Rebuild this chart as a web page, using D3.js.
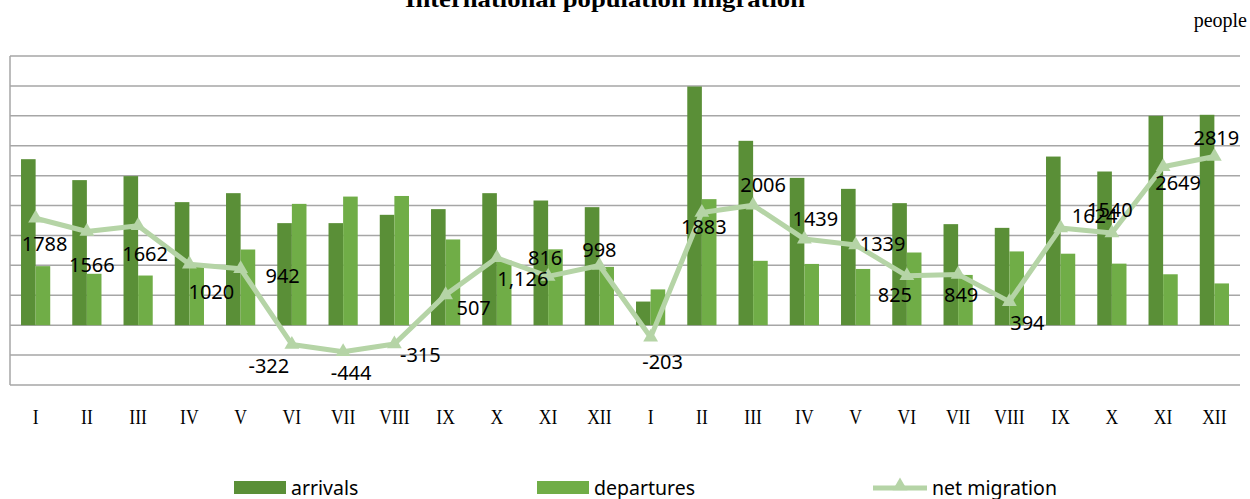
<!DOCTYPE html>
<html>
<head>
<meta charset="utf-8">
<script src="https://cdn.jsdelivr.net/npm/d3@7/dist/d3.min.js"></script>
<style>
  body { margin: 0; background: #fff; }
</style>
</head>
<body>
<script>
// months of two consecutive years
var months = ["I","II","III","IV","V","VI","VII","VIII","IX","X","XI","XII",
              "I","II","III","IV","V","VI","VII","VIII","IX","X","XI","XII"];

var arrivals = [2775, 2425, 2492, 2057, 2207, 1706, 1706, 1845, 1940, 2207, 2084, 1973,
                395, 3990, 3082, 2463, 2279, 2040, 1689, 1627, 2819, 2569, 3500, 3517];

var departures = [987, 859, 830, 1037, 1265, 2028, 2150, 2160, 1433, 1081, 1268, 975,
                  598, 2107, 1076, 1024, 940, 1215, 840, 1233, 1195, 1029, 851, 698];

var netMigration = [1788, 1566, 1662, 1020, 942, -322, -444, -315, 507, 1126, 816, 998,
                    -203, 1883, 2006, 1439, 1339, 825, 849, 394, 1624, 1540, 2649, 2819];

var netLabels = ["1788","1566","1662","1020","942","-322","-444","-315","507","1,126","816","998",
                 "-203","1883","2006","1439","1339","825","849","394","1624","1540","2649","2819"];

var yTicks = d3.range(-1000, 4501, 500);

// where each data label sits relative to its marker (as placed in the original)
var labelShift = [[9,26],[5,33],[7,28],[22,28],[42,7],[-23,21],[8,21],[26,11],[28,13],[26,21],[-3,-19],[0,-16],
                  [12,24],[2,14],[10,-20],[11,-20],[27,-1],[-12,19],[3,20],[18,21],[34,-12],[-2,-23],[15,16],[2,-19]];

var width = 1250, height = 499;
var plot = {left: 10, right: 1240, top: 56, bottom: 385};

var svg = d3.select("body")
  .append("svg")
  .attr("width", width)
  .attr("height", height)
  .style("background-color", "white");

var x = d3.scaleBand()
  .domain(d3.range(months.length))
  .range([plot.left, plot.right])
  .paddingInner(0.43)
  .paddingOuter(0.215);

var x1 = d3.scaleBand()
  .domain(["arrivals", "departures"])
  .range([0, x.bandwidth()]);

var y = d3.scaleLinear()
  .domain([-1000, 4500])
  .range([plot.bottom, plot.top]);

// title (mostly cut off at the top) and unit
svg.append("text")
  .attr("x", 605).attr("y", 7)
  .attr("text-anchor", "middle")
  .attr("textLength", 400)
  .attr("lengthAdjust", "spacingAndGlyphs")
  .style("font-family", "Liberation Serif")
  .style("font-weight", "bold")
  .style("font-size", "23px")
  .text("International population migration");

svg.append("text")
  .attr("x", 1247).attr("y", 27)
  .attr("text-anchor", "end")
  .style("font-family", "Liberation Serif")
  .style("font-size", "20px")
  .text("people");

// gridlines
svg.append("g")
  .selectAll("line")
  .data(yTicks)
  .enter()
  .append("line")
  .attr("x1", plot.left).attr("x2", plot.right)
  .attr("y1", function(d) { return y(d); })
  .attr("y2", function(d) { return y(d); })
  .attr("stroke", "#a6a6a6")
  .attr("stroke-width", 1.5);

svg.append("line")
  .attr("x1", plot.left).attr("x2", plot.left)
  .attr("y1", plot.top).attr("y2", plot.bottom)
  .attr("stroke", "#a6a6a6")
  .attr("stroke-width", 1.5);

// bars
var colors = {arrivals: "#5a8f37", departures: "#70ad47"};
var series = [["arrivals", arrivals], ["departures", departures]];

series.forEach(function(s) {
  svg.append("g")
    .selectAll("rect")
    .data(s[1])
    .enter()
    .append("rect")
    .attr("x", function(d, i) { return x(i) + x1(s[0]); })
    .attr("width", x1.bandwidth())
    .attr("y", function(d) { return y(Math.max(0, d)); })
    .attr("height", function(d) { return Math.abs(y(d) - y(0)); })
    .attr("fill", colors[s[0]]);
});

// net migration line
var lineColor = "#b5d4a6";
var cx = function(i) { return x(i) + x.bandwidth() / 2; };

svg.append("path")
  .datum(netMigration)
  .attr("d", d3.line()
    .x(function(d, i) { return cx(i); })
    .y(function(d) { return y(d); }))
  .attr("fill", "none")
  .attr("stroke", lineColor)
  .attr("stroke-width", 5)
  .attr("stroke-linejoin", "round");

svg.append("g")
  .selectAll("path")
  .data(netMigration)
  .enter()
  .append("path")
  .attr("d", d3.symbol().type(d3.symbolTriangle).size(95))
  .attr("transform", function(d, i) { return "translate(" + cx(i) + "," + y(d) + ")"; })
  .attr("fill", lineColor);

// data labels
svg.append("g")
  .selectAll("text")
  .data(netMigration)
  .enter()
  .append("text")
  .attr("x", function(d, i) { return cx(i) + labelShift[i][0]; })
  .attr("y", function(d, i) { return y(d) + labelShift[i][1]; })
  .attr("dy", "0.36em")
  .attr("text-anchor", "middle")
  .style("font-family", "Noto Sans")
  .style("font-size", "20px")
  .attr("fill", "#000")
  .text(function(d, i) { return netLabels[i]; });

// month labels
svg.append("g")
  .selectAll("text")
  .data(months)
  .enter()
  .append("text")
  .attr("transform", function(d, i) { return "translate(" + cx(i) + ",424) scale(0.8,1)"; })
  .attr("text-anchor", "middle")
  .style("font-family", "Liberation Serif")
  .style("font-size", "22px")
  .text(function(d) { return d; });

// legend
var legend = svg.append("g").style("font-family", "Noto Sans").style("font-size", "19.5px");

[["arrivals", 234], ["departures", 537]].forEach(function(l) {
  legend.append("rect")
    .attr("x", l[1]).attr("y", 481)
    .attr("width", 52).attr("height", 13)
    .attr("fill", colors[l[0]]);
  legend.append("text")
    .attr("x", l[1] + 57).attr("y", 495)
    .text(l[0]);
});

legend.append("line")
  .attr("x1", 873).attr("x2", 927)
  .attr("y1", 488).attr("y2", 488)
  .attr("stroke", lineColor)
  .attr("stroke-width", 5);
legend.append("path")
  .attr("d", d3.symbol().type(d3.symbolTriangle).size(95))
  .attr("transform", "translate(900,486)")
  .attr("fill", lineColor);
legend.append("text")
  .attr("x", 932).attr("y", 495)
  .text("net migration");
</script>
</body>
</html>
